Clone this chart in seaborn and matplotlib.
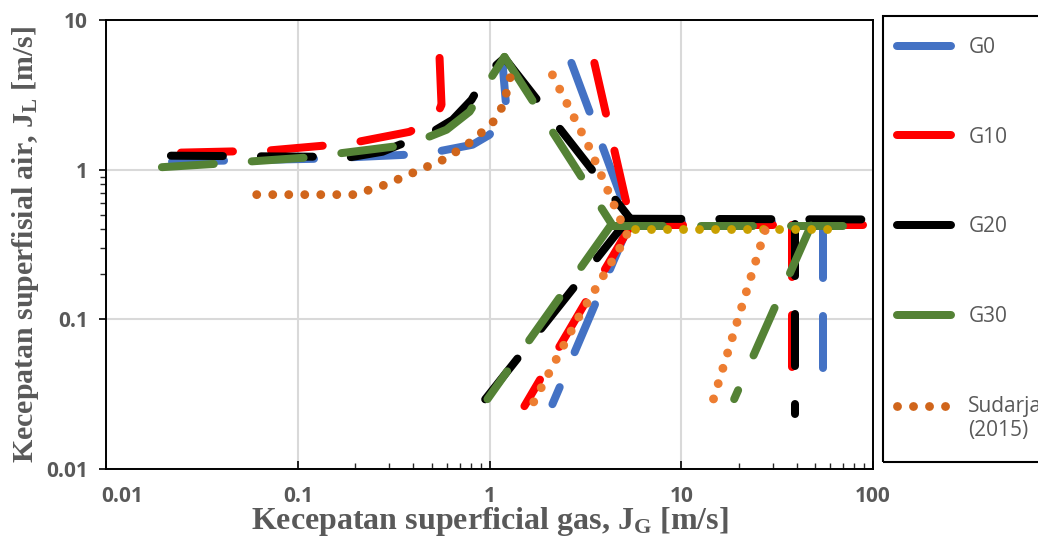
import numpy as np
import pandas as pd
import matplotlib
matplotlib.use("Agg")
import matplotlib.pyplot as plt
from matplotlib.lines import Line2D
from matplotlib.patches import Rectangle
from matplotlib.transforms import ScaledTranslation
from matplotlib.legend_handler import HandlerLine2D
import seaborn as sns

nan = np.nan

# Transition boundaries (J_G, J_L) in m/s; NaN separates the boundary pieces of a series
g0_jg = [0.0221, 0.130, 0.374, 0.53, 0.816, 1.0, 1.226, 1.169, nan,
         2.674, 5.425, nan,
         5.425, 54.9, nan,
         54.9, 54.9, nan,
         5.425, 2.129]
g0_jl = [1.131, 1.184, 1.259, 1.318, 1.468, 1.71, 2.51, 5.17, nan,
         5.17, 0.45, nan,
         0.45, 0.45, nan,
         0.423, 0.0271, nan,
         0.45, 0.0271]

g10_jg = [0.0246, 0.069, 0.135, 0.193, 0.383, 0.523, 0.562, 0.549, nan,
          3.523, 5.49, nan,
          5.49, 93.1, nan,
          37.9, 37.9, nan,
          5.49, 1.521]
g10_jl = [1.30, 1.34, 1.445, 1.51, 1.79, 2.22, 2.71, 5.58, nan,
          5.17, 0.43, nan,
          0.43, 0.43, nan,
          0.43, 0.028, nan,
          0.43, 0.0263]

g20_jg = [0.0218, 0.1197, 0.182, 0.277, 0.340, 0.475, 0.642, 0.806, 0.976, 1.197, nan,
          1.197, 5.36, nan,
          5.36, 91.9, nan,
          39.26, 39.26, nan,
          5.36, 0.898]
g20_jl = [1.24, 1.221, 1.202, 1.318, 1.468, 1.71, 2.154, 2.93, 4.43, 5.58, nan,
          5.58, 0.479, nan,
          0.47, 0.465, nan,
          0.4365, 0.0233, nan,
          0.479, 0.0267]

g30_jg = [0.01957, 0.0383, 0.1088, 0.3125, 0.4422, 0.597, 0.787, 0.965, 1.197, nan,
          1.197, 4.32, nan,
          4.32, 75.0, nan,
          4.32, 0.976, nan,
          47.5, 18.88]
g30_jl = [1.039, 1.096, 1.202, 1.423, 1.585, 1.848, 2.44, 3.69, 5.67, nan,
          5.67, 0.4365, nan,
          0.423, 0.423, nan,
          0.43, 0.0293, nan,
          0.423, 0.0293]

# Sudarja (2015) map, drawn in three pieces
sud_a_jg = [0.0611, 0.198, 0.287, 0.412, 0.590, 0.816, 1.088, 1.183, 1.24, 1.30]
sud_a_jl = [0.681, 0.681, 0.794, 0.970, 1.184, 1.56, 2.19, 2.754, 3.47, 4.43]
sud_b_jg = [2.129, 3.32, 5.23, 2.873, 1.655, nan, 27.38, 14.5]
sud_b_jl = [4.30, 1.40, 0.363, 0.1, 0.0263, nan, 0.392, 0.0275]
sud_c_jg = [5.76, 60.4]
sud_c_jl = [0.404, 0.404]

series_names = ["G0", "G10", "G20", "G30", "Sudarja\n(2015)"]
series_colors = ["#4472C4", "#FF0000", "#000000", "#548235", "#D0651B"]
sud_light = "#ED7D31"
sud_gold = "#C9A000"

x_ticks = [0.01, 0.1, 1, 10, 100]
x_ticklabels = ["0.01", "0.1", "1", "10", "100"]
y_ticks = [0.01, 0.1, 1, 10]
y_ticklabels = ["0.01", "0.1", "1", "10"]


def to_frame(jg, jl):
    """Split a NaN-separated polyline into numbered pieces."""
    df = pd.DataFrame({"jg": jg, "jl": jl})
    gap = df["jg"].isna()
    df["seg"] = gap.cumsum()
    return df[~gap].reset_index(drop=True)


class HandlerFirstLine(HandlerLine2D):
    """Legend line aligned with the first row of a two-row label, slightly widened."""

    def __init__(self, rise, widen, **kw):
        super().__init__(**kw)
        self.rise = rise
        self.widen = widen

    def create_artists(self, legend, orig_handle, xdescent, ydescent, width, height,
                       fontsize, trans):
        arts = super().create_artists(legend, orig_handle, xdescent, ydescent, width,
                                      height, fontsize, trans)
        for a in arts:
            yd = np.asarray(a.get_ydata(), dtype=float)
            a.set_ydata(yd + self.rise)
            xd = np.asarray(a.get_xdata(), dtype=float)
            if xd.size == 2:
                a.set_xdata([xd[0] - self.widen[0], xd[1] + self.widen[1]])
        return arts


sns.set_style("white")
plt.rcParams["font.family"] = ["Open Sans", "DejaVu Sans"]
plt.rcParams["mathtext.fontset"] = "custom"
plt.rcParams["mathtext.rm"] = "Liberation Serif:bold"
plt.rcParams["mathtext.bf"] = "Liberation Serif:bold"
plt.rcParams["mathtext.it"] = "Liberation Serif:bold"

fig = plt.figure(figsize=(10.38, 5.39), dpi=100)
ax = fig.add_axes([106 / 1038, 1 - 469 / 539, (873 - 106) / 1038, (469 - 20) / 539])
ax.set_xscale("log")
ax.set_yscale("log")
ax.set_xlim(0.01, 100)
ax.set_ylim(0.01, 10)

LW = 5.76
dash_style = (0, (6.5, 4.75))
DOT_LW = 6.4
dot_style = (0, (0.001, 1.8))

line_sets = [
    (g0_jg, g0_jl, series_colors[0]),
    (g10_jg, g10_jl, series_colors[1]),
    (g20_jg, g20_jl, series_colors[2]),
    (g30_jg, g30_jl, series_colors[3]),
]
for jg, jl, col in line_sets:
    sns.lineplot(data=to_frame(jg, jl), x="jg", y="jl", units="seg", estimator=None,
                 sort=False, color=col, linewidth=LW, linestyle=dash_style,
                 dash_capstyle="round", solid_capstyle="round", legend=False, ax=ax)

dot_sets = [
    (sud_a_jg, sud_a_jl, series_colors[4]),
    (sud_c_jg, sud_c_jl, sud_gold),
    (sud_b_jg, sud_b_jl, sud_light),
]
for jg, jl, col in dot_sets:
    sns.lineplot(data=to_frame(jg, jl), x="jg", y="jl", units="seg", estimator=None,
                 sort=False, color=col, linewidth=DOT_LW, linestyle=dot_style,
                 dash_capstyle="round", solid_capstyle="round", legend=False, ax=ax)

# Axes, grid and ticks
ax.grid(True, which="major", color="#D9D9D9", linewidth=1.5)
ax.set_axisbelow(True)
for side in ["left", "bottom", "top", "right"]:
    ax.spines[side].set_visible(True)
    ax.spines[side].set_color("black")
    ax.spines[side].set_linewidth(1.4)

ax.set_xticks(x_ticks)
ax.set_xticklabels(x_ticklabels)
ax.set_yticks(y_ticks)
ax.set_yticklabels(y_ticklabels)
ax.set_xticks([0.2, 0.3, 0.4, 0.5, 0.6, 0.7, 0.8, 0.9, 20, 30, 40, 50, 60, 70, 80, 90], minor=True)
ax.set_yticks([0.2, 0.3, 0.4, 0.5, 0.6, 0.7, 0.8, 0.9], minor=True)
ax.xaxis.set_minor_formatter(plt.NullFormatter())
ax.yaxis.set_minor_formatter(plt.NullFormatter())
ax.tick_params(axis="x", which="major", direction="in", length=6, width=1.2, pad=12,
               bottom=True, top=False, colors="black", labelcolor="#595959", labelsize=15)
ax.tick_params(axis="x", which="minor", direction="in", length=4, width=1.0,
               bottom=True, top=False)
ax.tick_params(axis="y", which="major", direction="out", length=5, width=1.2, pad=8,
               left=True, right=False, colors="black", labelcolor="#595959", labelsize=15)
ax.tick_params(axis="y", which="minor", direction="out", length=4, width=1.0,
               left=True, right=False)
for lab in ax.get_xticklabels() + ax.get_yticklabels():
    lab.set_fontweight("bold")
# first x label sits just inside the corner
first = ax.get_xticklabels()[0]
first.set_transform(first.get_transform() + ScaledTranslation(16 / 100, 0, fig.dpi_scale_trans))

ax.set_xlabel(r"Kecepatan superficial gas, J$_\mathrm{G}$ [m/s]", family="Liberation Serif",
              fontweight="bold", fontsize=23, color="#595959", labelpad=-1)
ax.set_ylabel(r"Kecepatan superfisial air, J$_\mathrm{L}$ [m/s]", family="Liberation Serif",
              fontweight="bold", fontsize=21.5, color="#595959", labelpad=4)

# Legend panel at the right: a framed box with the entries spread down its height
fig.add_artist(Rectangle((883 / 1038, 1 - 462 / 539), (1050 - 883) / 1038, (462 - 16) / 539,
                         transform=fig.transFigure, fill=False, edgecolor="black",
                         linewidth=1.5))
handles = [Line2D([], [], color=c, linewidth=LW, solid_capstyle="round")
           for c in series_colors[:4]]
sud_handle = Line2D([], [], color=series_colors[4], linewidth=DOT_LW, linestyle=dot_style,
                    dash_capstyle="round")
handles.append(sud_handle)
leg = fig.legend(handles, series_names, loc="upper left",
                 bbox_to_anchor=(897 / 1038, 1 - 37 / 539), bbox_transform=fig.transFigure,
                 frameon=False, fontsize=15, labelcolor="#595959", handlelength=2.6,
                 handletextpad=0.82, labelspacing=3.3, borderpad=0, borderaxespad=0,
                 handler_map={sud_handle: HandlerFirstLine(rise=9.4, widen=(3.0, 6.0))})

fig.savefig("out.png", dpi=100)
